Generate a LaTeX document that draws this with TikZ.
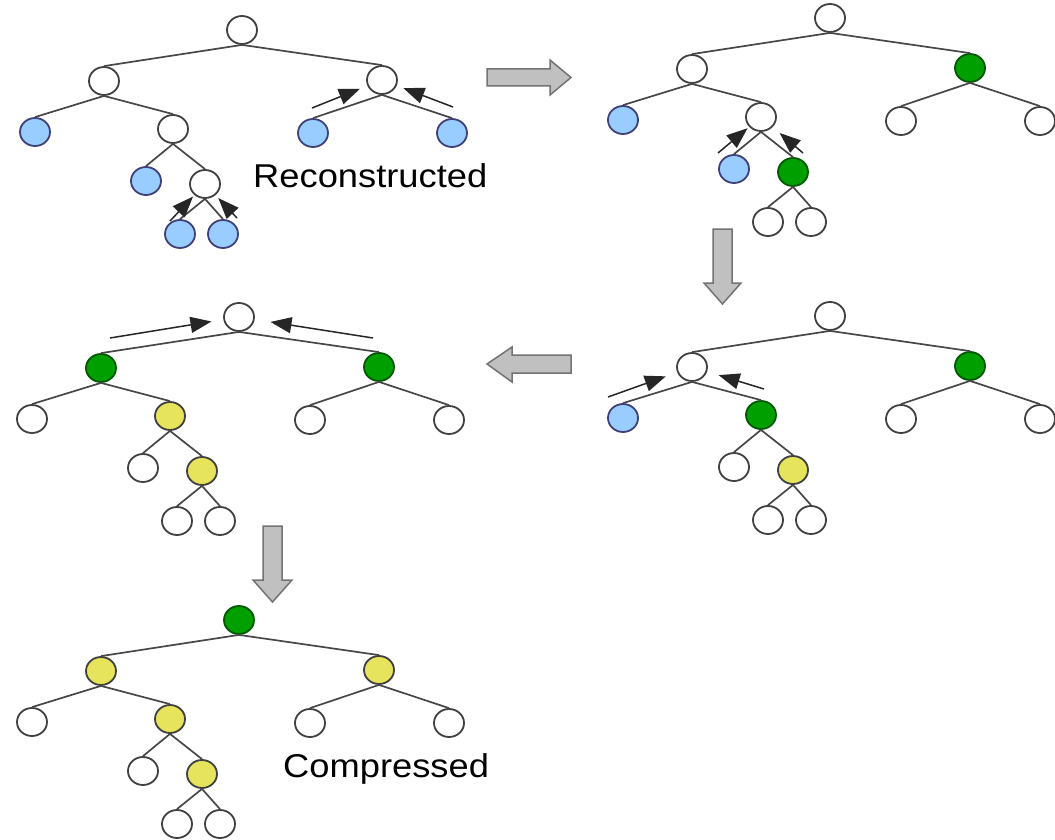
\documentclass[tikz,border=0pt]{standalone}
\usepackage{fontspec}
\setmainfont{Liberation Sans}
\usepackage{xcolor}
\usetikzlibrary{arrows.meta, shapes.geometric}

\definecolor{nodeblue}{HTML}{99CCFF}
\definecolor{nodegreen}{HTML}{009F00}
\definecolor{nodeyellow}{HTML}{E6E35C}
\definecolor{blockgray}{HTML}{C0C0C0}

\tikzset{
  node w/.style={ellipse, draw=black!75, line width=1.8pt, fill=white,
    minimum width=30pt, minimum height=28pt, inner sep=0pt},
  node b/.style={node w, fill=nodeblue, draw=black!55!blue!50!gray},
  node g/.style={node w, fill=nodegreen, draw=black!65!green},
  node y/.style={node w, fill=nodeyellow},
  edge/.style={draw=black!72, line width=1.7pt},
  ptr/.style={draw=black!85, line width=1.5pt, -{Triangle[length=21pt,width=16pt]}},
  block/.style={fill=blockgray, draw=black!55, line width=1.5pt, line join=miter},
  label/.style={font=\fontsize{33}{40}\selectfont, xscale=1.1, inner sep=0pt, anchor=base west}
}

\begin{document}
\begin{tikzpicture}[x=1pt, y=-1pt]
    \useasboundingbox (0,0) rectangle (1055,840);

    % Five trees, same shape, different colouring
    \foreach \k/\rx/\ry/\cols in {
        1/242/30/{w,w,w,b,w,b,w,b,b,b,b},
        2/830/18/{w,w,g,b,w,b,g,w,w,w,w},
        3/239/317/{w,g,g,w,y,w,y,w,w,w,w},
        4/830/316/{w,w,g,b,g,w,y,w,w,w,w},
        5/239/620/{g,y,y,w,y,w,y,w,w,w,w}} {
        \foreach \n/\dx/\dy [count=\i] in {o/0/0, l/-138/51, r/140/50, ll/-207/102,
            lr/-69/99, lrl/-96/151, lrr/-37/154, lrrl/-62/204, lrrr/-19/204,
            rl/71/103, rr/210/103} {
            \foreach \c [count=\j] in \cols {
                \ifnum\i=\j\relax \node[node \c] (t\k\n) at (\rx+\dx,\ry+\dy) {}; \fi
            }
        }
        \foreach \a/\b in {o/l, o/r, l/ll, l/lr, lr/lrl, lr/lrr, lrr/lrrl, lrr/lrrr, r/rl, r/rr}
            \draw[edge] (t\k\a.south) -- (t\k\b.north);
    }

    % Pointer arrows
    \coordinate (p1a) at (312,108);
    \coordinate (p1b) at (453,107);
    \coordinate (p1c) at (170,221);
    \coordinate (p1d) at (237,218);
    \coordinate (p2a) at (718,153);
    \coordinate (p2b) at (803,153);
    \coordinate (p3a) at (110,338);
    \coordinate (p3b) at (373,338);
    \coordinate (p4a) at (608,397);
    \coordinate (p4b) at (764,389);
    \draw[ptr, shorten >=8pt] (p1a) -- (t1r);
    \draw[ptr, shorten >=7pt] (p1b) -- (t1r);
    \draw[ptr, shorten >=2pt] (p1c) -- (t1lrr);
    \draw[ptr, shorten >=4pt] (p1d) -- (t1lrr);
    \draw[ptr, shorten >=2pt] (p2a) -- (t2lr);
    \draw[ptr, shorten >=9pt] (p2b) -- (t2lr);
    \draw[ptr, shorten >=12pt] (p3a) -- (t3o);
    \draw[ptr, shorten >=16pt] (p3b) -- (t3o);
    \draw[ptr, shorten >=12pt] (p4a) -- (t4l);
    \draw[ptr, shorten >=12pt] (p4b) -- (t4l);

    % Gray block arrows between the steps
    \filldraw[block] (487,69) -- (550,69) -- (550,60) -- (571,77.5) -- (550,95) -- (550,86) -- (487,86) -- cycle;
    \filldraw[block] (713,229) -- (732,229) -- (732,283) -- (741,283) -- (722.5,304) -- (704,283) -- (713,283) -- cycle;
    \filldraw[block] (571,355) -- (512,355) -- (512,347) -- (487,364) -- (512,382) -- (512,373) -- (571,373) -- cycle;
    \filldraw[block] (263,526) -- (282,526) -- (282,580) -- (292,580) -- (272.5,602) -- (253,580) -- (263,580) -- cycle;

    % Labels
    \node[label] (recon) at (253,187) {Reconstructed};
    \node[label] (compr) at (283,777) {Compressed};
\end{tikzpicture}
\end{document}
